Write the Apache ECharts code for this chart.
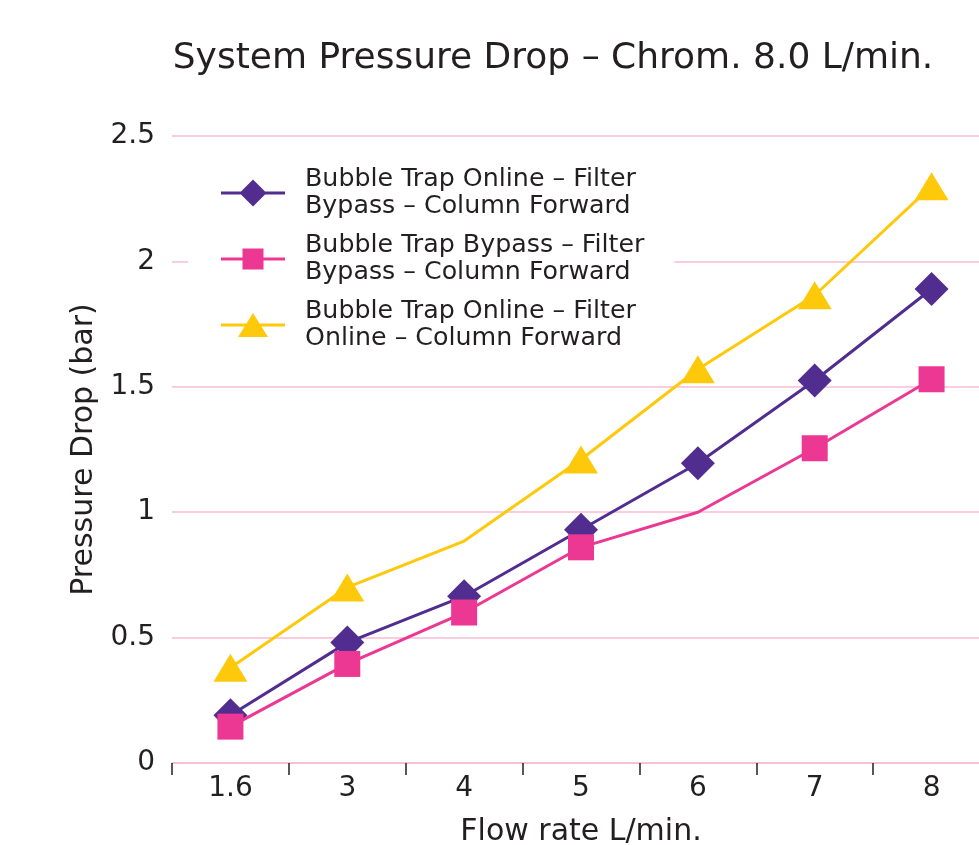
<!DOCTYPE html>
<html>
<head>
<meta charset="utf-8">
<script src="https://cdn.jsdelivr.net/npm/echarts@6/dist/echarts.min.js"></script>
<style>
html,body{margin:0;padding:0;background:#fff;overflow:hidden;}
#chart{width:979px;height:845px;}
</style>
</head>
<body>
<div id="chart"></div>
<script>
var categories = ['1.6', '3', '4', '5', '6', '7', '8'];
var seriesNames = [
  'Bubble Trap Online – Filter\nBypass – Column Forward',
  'Bubble Trap Bypass – Filter\nBypass – Column Forward',
  'Bubble Trap Online – Filter\nOnline – Column Forward'
];
var onlineBypass = [0.19, 0.48, 0.665, 0.93, 1.195, 1.525, 1.89];
var bypassBypass = [0.145, 0.395, 0.6, 0.86, 1.0, 1.255, 1.53];
var onlineOnline = [0.38, 0.70, 0.885, 1.21, 1.57, 1.865, 2.30];
// points drawn without a marker in the reference
var bypassNoMarker = [4];
var onlineNoMarker = [2];
var yTicks = [0, 0.5, 1, 1.5, 2, 2.5];

var FONT = 'DejaVu Sans';
var TXT = '#231F20';
var PINK_GRID = '#F7BBD6';
var COLORS = ['#512D90', '#EC3893', '#FFC90B'];

function withHidden(values, hidden) {
  return values.map(function (v, i) {
    return hidden.indexOf(i) >= 0 ? { value: v, symbol: 'none' } : v;
  });
}

// legend icons: line + marker in a 64x30 box (tiny corner dots fix the box)
var CORNERS = 'M0 0L0.01 0L0 0.01Z M64 30L63.99 30L64 29.99Z ';
var LINE = 'M0 13.5L64 13.5L64 16.5L0 16.5Z ';
var legendIcons = [
  'path://' + CORNERS + LINE + 'M32 1.5L45.5 15L32 28.5L18.5 15Z',
  'path://' + CORNERS + LINE + 'M21.5 4.5L42.5 4.5L42.5 25.5L21.5 25.5Z',
  'path://' + CORNERS + LINE + 'M32 3L47 27L17 27Z'
];

var chart = echarts.init(document.getElementById('chart'), null, { renderer: 'canvas' });
chart.setOption({
  backgroundColor: '#fff',
  animation: false,
  title: {
    text: 'System Pressure Drop – Chrom. 8.0 L/min.',
    left: 553,
    top: 41,
    textAlign: 'center',
    padding: 0,
    textStyle: { fontFamily: FONT, fontSize: 36, fontWeight: 'normal', color: TXT }
  },
  legend: {
    orient: 'vertical',
    left: 188,
    top: 152,
    padding: [14, 30, 12, 33],
    backgroundColor: '#ffffff',
    itemWidth: 64,
    itemHeight: 30,
    itemGap: 12,
    symbolKeepAspect: false,
    textStyle: { fontFamily: FONT, fontSize: 25.3, color: TXT, lineHeight: 27, padding: [0, 0, 0, 15] },
    data: seriesNames.map(function (n, i) { return { name: n, icon: legendIcons[i] }; })
  },
  grid: { left: 172, width: 818, top: 136, height: 627, outerBoundsMode: 'none', containLabel: false },
  xAxis: {
    type: 'category',
    data: categories,
    boundaryGap: true,
    name: 'Flow rate L/min.',
    nameLocation: 'middle',
    nameGap: 54,
    nameTextStyle: { fontFamily: FONT, fontSize: 30, color: TXT },
    axisLine: { show: true, lineStyle: { color: PINK_GRID, width: 1.5 } },
    axisTick: { show: true, length: 12, inside: false, lineStyle: { color: TXT, width: 1.5 } },
    axisLabel: { fontFamily: FONT, fontSize: 28, color: TXT, margin: 12 },
    splitLine: { show: false }
  },
  yAxis: {
    type: 'value',
    min: yTicks[0],
    max: yTicks[yTicks.length - 1],
    interval: 0.5,
    name: 'Pressure Drop (bar)',
    nameLocation: 'middle',
    nameGap: 66,
    nameTextStyle: { fontFamily: FONT, fontSize: 30, color: TXT },
    axisLine: { show: false },
    axisTick: { show: false },
    axisLabel: { fontFamily: FONT, fontSize: 28, color: TXT, margin: 17 },
    splitLine: { show: true, lineStyle: { color: PINK_GRID, width: 1.5 } }
  },
  series: [
    {
      name: seriesNames[0], type: 'line', data: onlineBypass,
      symbol: 'diamond', symbolSize: 34, showAllSymbol: true,
      lineStyle: { color: COLORS[0], width: 3 },
      itemStyle: { color: COLORS[0] }, z: 3
    },
    {
      name: seriesNames[1], type: 'line', data: withHidden(bypassBypass, bypassNoMarker),
      symbol: 'rect', symbolSize: 26, showAllSymbol: true,
      lineStyle: { color: COLORS[1], width: 3 },
      itemStyle: { color: COLORS[1] }, z: 4
    },
    {
      name: seriesNames[2], type: 'line', data: withHidden(onlineOnline, onlineNoMarker),
      symbol: 'triangle', symbolSize: [34, 28], showAllSymbol: true,
      lineStyle: { color: COLORS[2], width: 3 },
      itemStyle: { color: COLORS[2] }, z: 2
    }
  ]
});
</script>
</body>
</html>
